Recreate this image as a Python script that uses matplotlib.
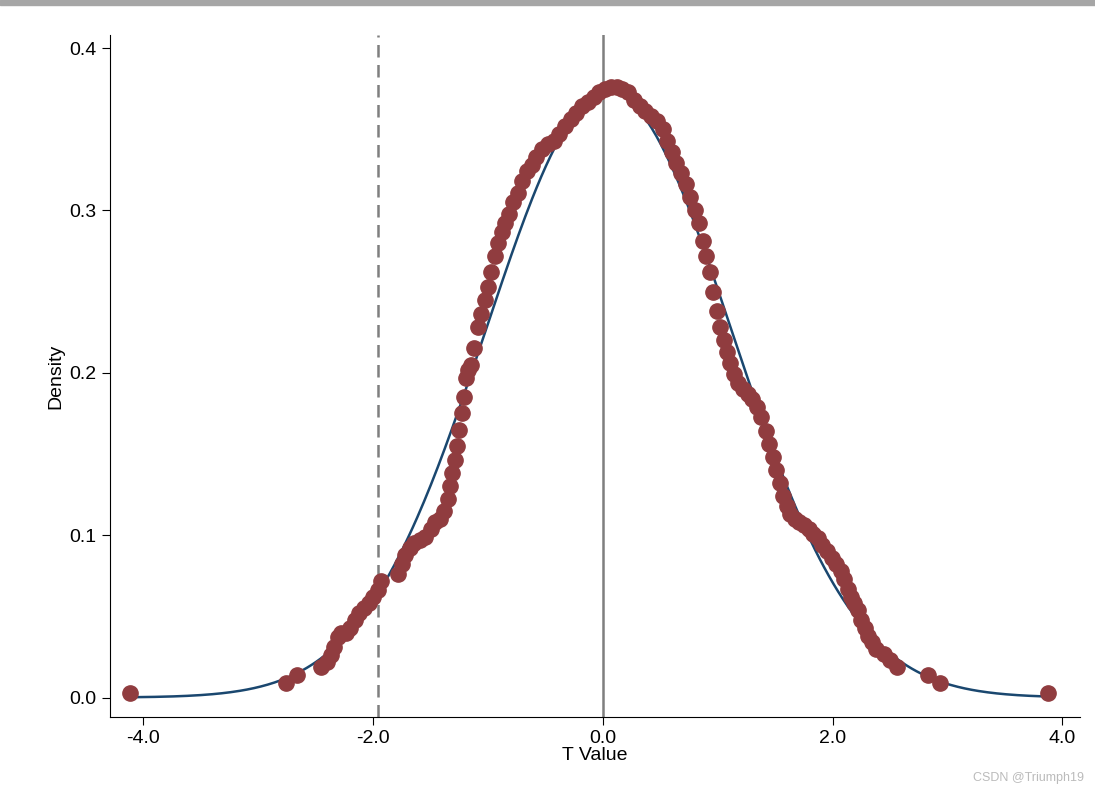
import numpy as np
import matplotlib.pyplot as plt

plt.rcParams['font.family'] = ['Liberation Sans', 'DejaVu Sans']

# kernel density of placebo t-values
t_vals = [-4.12, -2.76, -2.66, -2.45, -2.40, -2.37, -2.34, -2.31, -2.28, -2.24, -2.20,
          -2.16, -2.12, -2.08, -2.04, -2.00, -1.96, -1.93, -1.78, -1.75, -1.72, -1.68,
          -1.64, -1.59, -1.55, -1.50, -1.46, -1.42, -1.38, -1.35, -1.33, -1.31, -1.29,
          -1.27, -1.25, -1.23, -1.21, -1.19, -1.17, -1.15, -1.12, -1.09, -1.06, -1.03,
          -1.00, -0.97, -0.94, -0.91, -0.88, -0.85, -0.82, -0.78, -0.74, -0.70, -0.66,
          -0.62, -0.58, -0.53, -0.48, -0.43, -0.38, -0.33, -0.28, -0.23, -0.18, -0.13,
          -0.08, -0.03, 0.02, 0.07, 0.12, 0.17, 0.22, 0.27, 0.32, 0.37, 0.42, 0.47,
          0.52, 0.56, 0.60, 0.64, 0.68, 0.72, 0.76, 0.80, 0.84, 0.87, 0.90, 0.93,
          0.96, 0.99, 1.02, 1.05, 1.08, 1.11, 1.14, 1.18, 1.22, 1.26, 1.30, 1.34, 1.38,
          1.42, 1.45, 1.48, 1.51, 1.54, 1.57, 1.60, 1.63, 1.67, 1.71, 1.75, 1.79, 1.83,
          1.87, 1.91, 1.95, 1.99, 2.03, 2.07, 2.10, 2.13, 2.16, 2.19, 2.22, 2.25, 2.28,
          2.31, 2.34, 2.38, 2.45, 2.50, 2.56, 2.83, 2.93, 3.87]
dens = [0.003, 0.009, 0.014, 0.019, 0.022, 0.026, 0.031, 0.037, 0.040, 0.040, 0.043,
        0.048, 0.052, 0.055, 0.058, 0.062, 0.066, 0.072, 0.076, 0.082, 0.088, 0.092,
        0.095, 0.097, 0.099, 0.104, 0.108, 0.110, 0.115, 0.122, 0.130, 0.138, 0.146,
        0.155, 0.165, 0.175, 0.185, 0.197, 0.202, 0.205, 0.215, 0.228, 0.236, 0.245,
        0.253, 0.262, 0.272, 0.280, 0.287, 0.292, 0.298, 0.305, 0.311, 0.318, 0.324,
        0.328, 0.333, 0.338, 0.341, 0.343, 0.347, 0.352, 0.356, 0.360, 0.364, 0.367,
        0.370, 0.373, 0.375, 0.376, 0.376, 0.375, 0.373, 0.368, 0.364, 0.361, 0.358,
        0.355, 0.350, 0.343, 0.336, 0.329, 0.323, 0.316, 0.308, 0.300, 0.292, 0.281,
        0.272, 0.262, 0.250, 0.238, 0.228, 0.220, 0.213, 0.206, 0.199, 0.194, 0.190,
        0.187, 0.184, 0.179, 0.173, 0.164, 0.156, 0.148, 0.140, 0.132, 0.124, 0.118,
        0.113, 0.110, 0.108, 0.106, 0.104, 0.101, 0.098, 0.094, 0.090, 0.086, 0.082,
        0.078, 0.073, 0.067, 0.062, 0.058, 0.054, 0.048, 0.043, 0.038, 0.034, 0.030,
        0.027, 0.023, 0.019, 0.014, 0.009, 0.003]

# reference normal density
mu, sigma = 0.05, 1.07
x_min, x_max = -4.12, 3.87
crit = -1.96

fig = plt.figure(figsize=(10.95, 7.93), dpi=100)
fig.patches.append(plt.Rectangle((0, 0.994), 1, 0.006, transform=fig.transFigure,
                                 color="#a6a6a6"))
ax = fig.add_axes([0.1005, 0.0958, 0.8855, 0.8600])

xs = np.linspace(x_min, x_max, 400)
ax.plot(xs, np.exp(-0.5 * ((xs - mu) / sigma) ** 2) / (sigma * np.sqrt(2 * np.pi)),
        color="#1a476f", lw=1.8, zorder=2)
ax.plot(t_vals, dens, "o", color="#903c3f", ms=11, zorder=3)
ax.axvline(crit, color="#7f7f7f", ls=(0, (5, 3)), lw=1.8, zorder=1)
ax.axvline(0, color="#7f7f7f", lw=1.8, zorder=1)

ax.set_xlim(-4.29, 4.15)
ax.set_ylim(-0.012, 0.408)
ax.set_xticks([-4, -2, 0, 2, 4])
ax.set_xticklabels(["-4.0", "-2.0", "0.0", "2.0", "4.0"])
ax.set_yticks([0, 0.1, 0.2, 0.3, 0.4])
ax.set_yticklabels(["0.0", "0.1", "0.2", "0.3", "0.4"])
ax.tick_params(labelsize=14, length=6)
ax.set_xlabel("T Value", fontsize=14, labelpad=0)
ax.set_ylabel("Density", fontsize=14)
for s in ["top", "right"]:
    ax.spines[s].set_visible(False)

fig.text(0.99, 0.015, "CSDN @Triumph19", ha="right", fontsize=9, color="#bbbbbb")
fig.savefig("out.png", dpi=100)
